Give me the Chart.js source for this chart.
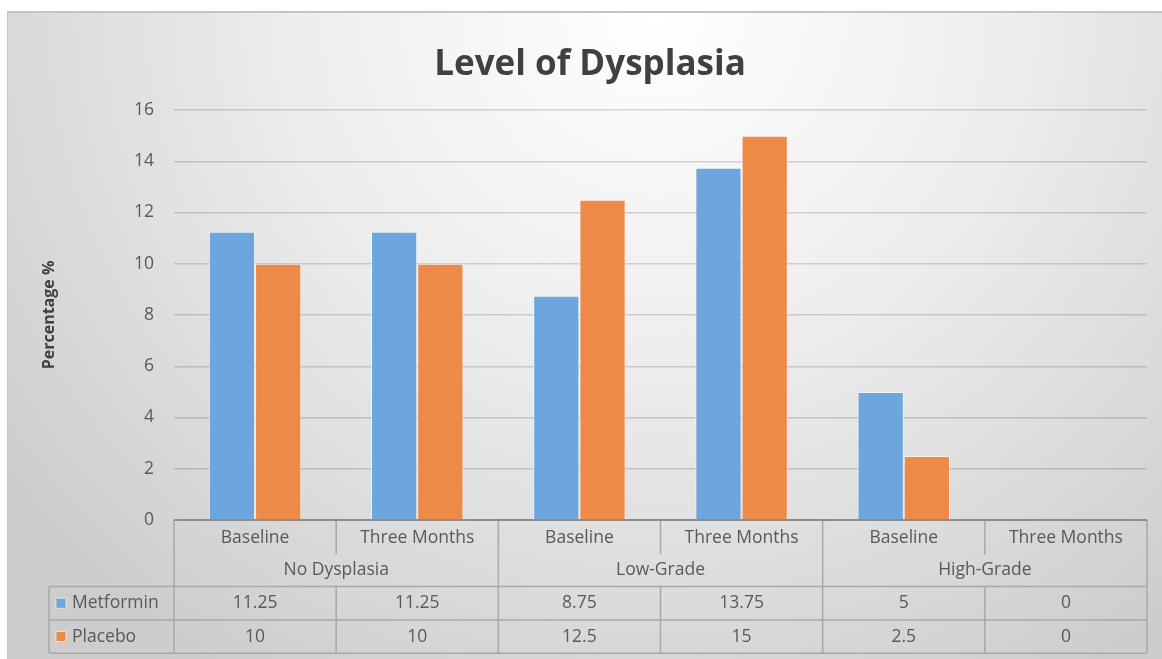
<!DOCTYPE html>
<html>
<head>
<meta charset="utf-8">
<script src="https://cdn.jsdelivr.net/npm/chart.js@4.4.1/dist/chart.umd.min.js"></script>
<style>
  html, body { margin: 0; padding: 0; width: 1162px; height: 659px; overflow: hidden; background: #ffffff; }
  #frame {
    position: absolute; left: 7px; top: 11px; width: 1155px; height: 648px;
    box-sizing: border-box;
    border-top: 2px solid #c4c4c4; border-left: 1px solid #c8c8c8;
    background: radial-gradient(ellipse 70% 120% at 56% 0%, #ffffff 0%, #ededed 45%, #cdcdcd 100%);
  }
  #c { position: absolute; left: 0; top: 0; }
</style>
</head>
<body>
<div id="frame"></div>
<canvas id="c" width="1162" height="659"></canvas>
<script>
// Timepoints (inner categories) and dysplasia grades (outer groups)
const subCategories = ['Baseline', 'Three Months', 'Baseline', 'Three Months', 'Baseline', 'Three Months'];
const groups = ['No Dysplasia', 'Low-Grade', 'High-Grade'];

// Percentage of patients per arm
const seriesNames = ['Metformin', 'Placebo'];
const metformin = [11.25, 11.25, 8.75, 13.75, 5, 0];
const placebo = [10, 10, 12.5, 15, 2.5, 0];

// Value axis
const yMin = 0;
const yMax = 16;
const yStep = 2;

const COLORS = ['#6ca6dc', '#ee8a48'];
const FONT = '"Open Sans", Lato, sans-serif';
const TEXT = '#595959';
const LINE = '#a8a8a8';

// Draws the data table (category rows + value rows with legend keys) under the plot
const dataTable = {
  id: 'dataTable',
  afterDraw(chart) {
    const { ctx, chartArea } = chart;
    const { left, right, bottom } = chartArea;
    const xs = chart.scales.x;
    const n = subCategories.length;
    const colW = (right - left) / n;
    const rowH = 33.3;
    const r1 = bottom + rowH, r2 = r1 + rowH, r3 = r2 + rowH, r4 = r3 + rowH;
    const keyLeft = 49;

    const line = (x1, y1, x2, y2) => {
      ctx.beginPath(); ctx.moveTo(x1, y1); ctx.lineTo(x2, y2); ctx.stroke();
    };

    ctx.save();
    ctx.strokeStyle = LINE;
    ctx.lineWidth = 1.5;

    // inner dividers (between timepoints in the same group), first row only
    for (let i = 1; i < n; i += 2) {
      const x = left + i * colW;
      line(x, bottom, x, r1 + 1);
    }
    // group dividers through both category rows and the value rows
    for (let g = 0; g <= groups.length; g++) {
      const x = left + g * 2 * colW;
      line(x, bottom, x, r4);
    }
    // inner dividers in the value rows
    for (let i = 1; i < n; i += 2) {
      const x = left + i * colW;
      line(x, r2, x, r4);
    }
    // horizontal rules of the value rows
    line(keyLeft, r2, right, r2);
    line(keyLeft, r3, right, r3);
    line(keyLeft, r4, right, r4);
    line(keyLeft, r2, keyLeft, r4);

    // category axis line
    ctx.strokeStyle = '#8c8c8c';
    ctx.lineWidth = 2;
    line(left, bottom, right, bottom);

    ctx.fillStyle = TEXT;
    ctx.font = '17.5px ' + FONT;
    ctx.textAlign = 'center';
    ctx.textBaseline = 'middle';

    // timepoint labels
    subCategories.forEach((lbl, i) => {
      ctx.fillText(lbl, xs.getPixelForValue(i), bottom + rowH / 2 + 1);
    });
    // group labels
    groups.forEach((lbl, g) => {
      const cx = (xs.getPixelForValue(2 * g) + xs.getPixelForValue(2 * g + 1)) / 2;
      ctx.fillText(lbl, cx, r1 + rowH / 2);
    });
    // value rows
    chart.data.datasets.forEach((ds, d) => {
      const cy = r2 + rowH * d + rowH / 2;
      ds.data.forEach((v, i) => {
        ctx.fillStyle = TEXT;
        ctx.textAlign = 'center';
        ctx.fillText(String(v), xs.getPixelForValue(i), cy);
      });
      // legend key
      ctx.fillStyle = ds.backgroundColor;
      ctx.fillRect(keyLeft + 7, cy - 5, 10, 10);
      ctx.strokeStyle = 'rgba(255,255,255,0.6)';
      ctx.lineWidth = 1;
      ctx.strokeRect(keyLeft + 7, cy - 5, 10, 10);
      ctx.fillStyle = TEXT;
      ctx.textAlign = 'left';
      ctx.fillText(ds.label, keyLeft + 23, cy);
    });
    ctx.restore();
  }
};

new Chart(document.getElementById('c'), {
  type: 'bar',
  data: {
    labels: subCategories,
    datasets: [
      { label: seriesNames[0], data: metformin, backgroundColor: COLORS[0] },
      { label: seriesNames[1], data: placebo, backgroundColor: COLORS[1] }
    ]
  },
  options: {
    responsive: false,
    animation: false,
    layout: { padding: { left: 33, right: 15, top: 11, bottom: 0 } },
    datasets: {
      bar: {
        categoryPercentage: 0.57,
        barPercentage: 1.0,
        borderWidth: 1,
        borderColor: 'rgba(255,255,255,0.55)'
      }
    },
    plugins: {
      legend: { display: false },
      tooltip: { enabled: false },
      title: {
        display: true,
        text: 'Level of Dysplasia',
        color: '#404040',
        font: { family: FONT, size: 35, weight: 'bold' },
        padding: { top: 33, bottom: 24 }
      }
    },
    scales: {
      x: {
        grid: { display: false },
        border: { display: false },
        ticks: { display: false },
        afterFit(scale) { scale.height = 139; }
      },
      y: {
        min: yMin,
        max: yMax,
        ticks: {
          stepSize: yStep,
          color: TEXT,
          padding: 20,
          font: { family: FONT, size: 17.5 }
        },
        grid: { color: 'rgba(0,0,0,0.15)', lineWidth: 1.5, drawTicks: false },
        border: { display: false },
        title: {
          display: true,
          text: 'Percentage %',
          color: '#404040',
          font: { family: FONT, size: 16, weight: 'bold' },
          padding: { top: 7, bottom: 0 }
        },
        afterFit(scale) { scale.width = 141; }
      }
    }
  },
  plugins: [dataTable]
});
</script>
</body>
</html>
